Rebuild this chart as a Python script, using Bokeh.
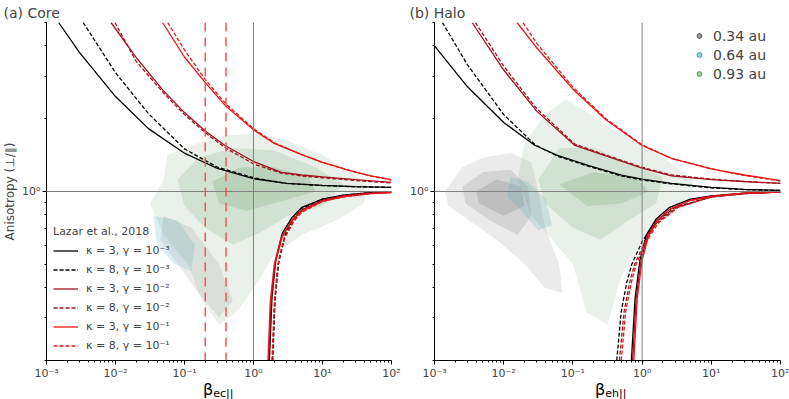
from bokeh.plotting import figure
from bokeh.layouts import row, column
from bokeh.models import (Range1d, FixedTicker, CustomJSTickFormatter, Span, Legend,
                          LegendItem, Div)
from bokeh.embed import file_html
from bokeh.resources import INLINE

FONT = "DejaVu Sans"

# ---------------- axes data ----------------
x_major = [1e-3, 1e-2, 1e-1, 1.0, 10.0, 100.0]
x_minor = [m * 10.0 ** e for e in range(-3, 2) for m in range(2, 10)]
y_major = [1.0]
y_minor = [0.2, 0.3, 0.4, 0.5, 0.6, 0.7, 0.8, 0.9, 2.0, 3.0, 4.0, 5.0]
beta_marks = [0.2, 0.4]

# ---------------- threshold curves (Lazar et al. 2018) ----------------
# Core, upper
core_up_k3_g3_b = [1.5e-3, 3e-3, 0.01, 0.03, 0.1, 0.3, 1, 3, 10, 30, 100]
core_up_k3_g3_a = [5.0, 3.76, 2.47, 1.82, 1.44, 1.245, 1.13, 1.08, 1.06, 1.048, 1.04]
core_up_k8_g3_b = [3.4e-3, 0.01, 0.03, 0.1, 0.3, 1, 3, 10, 30, 100]
core_up_k8_g3_a = [5.0, 3.1, 2.1, 1.5, 1.26, 1.14, 1.08, 1.058, 1.046, 1.04]
core_up_k3_g2_b = [0.0086, 0.02, 0.05, 0.1, 0.2, 0.385, 1, 2.54, 5, 10, 30, 100]
core_up_k3_g2_a = [5.0, 3.58, 2.6, 2.12, 1.78, 1.55, 1.33, 1.2, 1.17, 1.15, 1.12, 1.09]
core_up_k8_g2_b = [0.0098, 0.02, 0.05, 0.1, 0.2, 0.385, 1, 2.54, 5, 10, 30, 100]
core_up_k8_g2_a = [5.0, 3.45, 2.55, 2.08, 1.75, 1.52, 1.3, 1.19, 1.16, 1.14, 1.11, 1.085]
core_up_k3_g1_b = [0.048, 0.1, 0.2, 0.4, 1, 2, 5, 10, 25, 50, 100]
core_up_k3_g1_a = [5.0, 3.6, 2.82, 2.25, 1.8, 1.58, 1.42, 1.32, 1.22, 1.16, 1.12]
core_up_k8_g1_b = [0.057, 0.1, 0.2, 0.4, 1, 2, 5, 10, 25, 50, 100]
core_up_k8_g1_a = [5.0, 3.85, 2.9, 2.3, 1.82, 1.59, 1.42, 1.32, 1.22, 1.16, 1.115]
# Core, lower
core_lo_k3_g3_b = [1.7, 1.85, 2.1, 2.6, 3.6, 5, 10, 20, 50, 100]
core_lo_k3_g3_a = [0.2, 0.36, 0.52, 0.67, 0.78, 0.86, 0.93, 0.965, 0.99, 0.996]
core_lo_k8_g3_b = [1.9, 2.06, 2.32, 2.9, 3.9, 5, 10, 20, 50, 100]
core_lo_k8_g3_a = [0.2, 0.36, 0.52, 0.67, 0.78, 0.85, 0.93, 0.965, 0.99, 0.996]
core_lo_k3_g2_b = [1.66, 1.8, 2.05, 2.6, 3.6, 5, 10, 20, 50, 100]
core_lo_k3_g2_a = [0.2, 0.35, 0.5, 0.65, 0.76, 0.84, 0.92, 0.96, 0.985, 0.993]
core_lo_k8_g2_b = [1.88, 2.03, 2.3, 2.85, 3.9, 5, 10, 20, 50, 100]
core_lo_k8_g2_a = [0.2, 0.35, 0.5, 0.65, 0.76, 0.83, 0.92, 0.96, 0.985, 0.993]
core_lo_k3_g1_b = [1.62, 1.75, 2.0, 2.5, 3.5, 5, 10, 20, 50, 100]
core_lo_k3_g1_a = [0.2, 0.35, 0.5, 0.64, 0.75, 0.83, 0.91, 0.95, 0.98, 0.99]
core_lo_k8_g1_b = [1.85, 2.0, 2.25, 2.8, 3.8, 5, 10, 20, 50, 100]
core_lo_k8_g1_a = [0.2, 0.35, 0.5, 0.64, 0.75, 0.82, 0.91, 0.95, 0.98, 0.99]

# Halo, upper
halo_up_k3_g3_b = [1e-3, 3e-3, 0.01, 0.0284, 0.06, 0.17, 0.5, 1, 2.65, 10, 30, 100]
halo_up_k3_g3_a = [4.0, 2.71, 1.93, 1.55, 1.41, 1.28, 1.17, 1.125, 1.08, 1.04, 1.02, 1.01]
halo_up_k8_g3_b = [1.3e-3, 3e-3, 0.01, 0.0284, 0.06, 0.17, 0.5, 1, 2.65, 10, 30, 100]
halo_up_k8_g3_a = [5.0, 3.34, 2.08, 1.56, 1.4, 1.27, 1.16, 1.115, 1.075, 1.035, 1.018, 1.01]
halo_up_k3_g2_b = [3.5e-3, 0.01, 0.03, 0.107, 0.33, 1, 2.65, 10, 30, 100]
halo_up_k3_g2_a = [5.0, 3.18, 2.15, 1.55, 1.39, 1.25, 1.16, 1.12, 1.1, 1.08]
halo_up_k8_g2_b = [3.9e-3, 0.01, 0.03, 0.107, 0.33, 1, 2.65, 10, 30, 100]
halo_up_k8_g2_a = [5.0, 3.3, 2.2, 1.57, 1.4, 1.26, 1.17, 1.125, 1.1, 1.08]
halo_up_k3_g1_b = [0.0156, 0.03, 0.1, 0.3, 1, 2.65, 10, 30, 100]
halo_up_k3_g1_a = [5.0, 3.93, 2.65, 1.98, 1.55, 1.37, 1.24, 1.17, 1.11]
halo_up_k8_g1_b = [0.019, 0.03, 0.1, 0.3, 1, 2.65, 10, 30, 100]
halo_up_k8_g1_a = [5.0, 4.1, 2.7, 2.0, 1.56, 1.37, 1.24, 1.165, 1.105]
# Halo, lower
halo_lo_k3_g3_b = [0.7, 0.79, 0.93, 1.15, 1.6, 2.5, 5, 10, 30, 100]
halo_lo_k3_g3_a = [0.2, 0.36, 0.52, 0.66, 0.77, 0.86, 0.93, 0.96, 0.985, 0.995]
halo_lo_k8_g3_b = [0.43, 0.5, 0.6, 0.71, 1.0, 1.5, 3, 10, 30, 100]
halo_lo_k8_g3_a = [0.2, 0.32, 0.42, 0.5, 0.62, 0.74, 0.86, 0.95, 0.98, 0.995]
halo_lo_k3_g2_b = [0.73, 0.82, 0.97, 1.2, 1.65, 2.6, 5, 10, 30, 100]
halo_lo_k3_g2_a = [0.2, 0.36, 0.52, 0.66, 0.76, 0.85, 0.92, 0.955, 0.985, 0.995]
halo_lo_k8_g2_b = [0.47, 0.55, 0.66, 0.78, 1.1, 1.6, 3.2, 10, 30, 100]
halo_lo_k8_g2_a = [0.2, 0.32, 0.42, 0.5, 0.62, 0.74, 0.86, 0.95, 0.98, 0.995]
halo_lo_k3_g1_b = [0.76, 0.85, 1.0, 1.25, 1.7, 2.65, 5, 10, 30, 100]
halo_lo_k3_g1_a = [0.2, 0.36, 0.52, 0.66, 0.76, 0.85, 0.92, 0.955, 0.985, 0.995]
halo_lo_k8_g1_b = [0.5, 0.58, 0.7, 0.82, 1.15, 1.7, 3.3, 10, 30, 100]
halo_lo_k8_g1_a = [0.2, 0.32, 0.42, 0.5, 0.62, 0.74, 0.86, 0.95, 0.98, 0.995]

# ---------------- density clouds (log10 beta, log10 anisotropy) ----------------
core_green_outer_lx = [-1.5, -1.3, -1.25, -0.9, -0.5, 0.0, 0.5, 1.0, 1.35, 1.65, 1.6, 1.2, 0.7, 0.3, 0.05, -0.25, -0.5, -0.75, -0.95, -1.3]
core_green_outer_ly = [-0.05, 0.05, 0.15, 0.19, 0.23, 0.24, 0.21, 0.15, 0.09, 0.03, -0.05, -0.12, -0.18, -0.26, -0.38, -0.5, -0.55, -0.45, -0.3, -0.18]
core_green_mid_lx = [-1.1, -0.8, -0.3, 0.3, 0.9, 1.3, 1.0, 0.5, 0.1, -0.3, -0.7, -1.0]
core_green_mid_ly = [0.05, 0.14, 0.18, 0.17, 0.1, 0.03, -0.06, -0.1, -0.17, -0.22, -0.15, -0.06]
core_green_core_lx = [-0.6, -0.2, 0.3, 0.8, 0.9, 0.4, -0.1, -0.5]
core_green_core_ly = [0.04, 0.1, 0.1, 0.06, 0.0, -0.04, -0.08, -0.05]
core_gray_lx = [-1.3, -0.9, -0.5, -0.3, -0.5, -0.8, -1.1, -1.35]
core_gray_ly = [-0.1, -0.15, -0.3, -0.45, -0.52, -0.42, -0.3, -0.2]
core_blue_lx = [-1.45, -1.1, -0.85, -0.9, -1.15, -1.4]
core_blue_ly = [-0.1, -0.12, -0.22, -0.33, -0.3, -0.22]

halo_gray_outer_lx = [-2.85, -2.6, -2.3, -1.9, -1.6, -1.5, -1.4, -1.2, -1.15, -1.4, -1.7, -2.1, -2.5, -2.8]
halo_gray_outer_ly = [0.0, 0.1, 0.14, 0.16, 0.12, 0.0, -0.15, -0.3, -0.42, -0.4, -0.3, -0.2, -0.12, -0.06]
halo_gray_mid_lx = [-2.6, -2.3, -1.9, -1.65, -1.6, -1.8, -2.2, -2.55]
halo_gray_mid_ly = [0.02, 0.08, 0.09, 0.02, -0.1, -0.18, -0.12, -0.05]
halo_gray_core_lx = [-2.4, -2.1, -1.75, -1.7, -2.0, -2.35]
halo_gray_core_ly = [0.0, 0.05, 0.02, -0.06, -0.1, -0.05]
halo_blue_lx = [-1.9, -1.65, -1.4, -1.3, -1.5, -1.75, -1.95]
halo_blue_ly = [0.06, 0.04, -0.03, -0.14, -0.16, -0.08, -0.02]
halo_green_outer_lx = [-1.8, -1.7, -1.4, -1.1, -0.8, -0.4, 0.0, 0.4, 0.75, 0.7, 0.3, 0.0, -0.3, -0.5, -0.8, -1.0, -1.3, -1.6]
halo_green_outer_ly = [0.05, 0.2, 0.32, 0.38, 0.33, 0.25, 0.2, 0.12, 0.05, -0.05, -0.12, -0.2, -0.35, -0.55, -0.5, -0.3, -0.2, -0.1]
halo_green_mid_lx = [-1.5, -1.2, -0.7, -0.2, 0.3, 0.2, -0.2, -0.6, -1.0, -1.4]
halo_green_mid_ly = [0.05, 0.18, 0.18, 0.12, 0.06, -0.05, -0.12, -0.2, -0.15, -0.05]
halo_green_core_lx = [-1.2, -0.7, -0.1, 0.1, -0.3, -0.8]
halo_green_core_ly = [0.03, 0.08, 0.06, 0.0, -0.05, -0.06]

dist_labels = ["0.34 au", "0.64 au", "0.93 au"]
legend_labels = ["κ = 3, γ = 10⁻³", "κ = 8, γ = 10⁻³", "κ = 3, γ = 10⁻²",
                 "κ = 8, γ = 10⁻²", "κ = 3, γ = 10⁻¹", "κ = 8, γ = 10⁻¹"]

C_BLACK = "#000000"
C_DRED = "#a3101e"
C_RED = "#e8161a"
C_GRAY = "#7a7a7a"
C_BLUE = "#5aa8c0"
C_GREEN = "#5a965a"

fmt = CustomJSTickFormatter(code="""
const sup = {'-':'\u207b','0':'\u2070','1':'\u00b9','2':'\u00b2','3':'\u00b3','4':'\u2074','5':'\u2075','6':'\u2076','7':'\u2077','8':'\u2078','9':'\u2079'};
const e = Math.round(Math.log10(tick));
return '10' + String(e).split('').map(c => sup[c]).join('');
""")

FIG_H = 382


def tolin(vals):
    return [10.0 ** v for v in vals]


def make_fig(title, width, bl, br, toff, ylabel):
    p = figure(width=width, height=FIG_H, x_axis_type="log", y_axis_type="log",
               x_range=Range1d(1e-3, 1e2), y_range=Range1d(0.2, 5),
               output_backend="svg", toolbar_location=None,
               min_border_left=bl, min_border_right=br, min_border_top=22,
               min_border_bottom=19, title=title)
    p.outline_line_color = None
    p.grid.visible = False
    p.title.text_font = FONT
    p.title.text_font_size = "14px"
    p.title.text_font_style = "normal"
    p.title.align = "left"
    p.title.offset = toff
    p.title.standoff = 4
    for ax in (p.xaxis[0], p.yaxis[0]):
        ax.formatter = fmt
        ax.major_label_text_font = FONT
        ax.major_label_text_font_size = "11px"
        ax.major_tick_out = 4
        ax.major_tick_in = 0
        ax.minor_tick_out = 2
        ax.minor_tick_in = 0
        ax.axis_line_color = "black"
        ax.major_label_standoff = 2
    p.xaxis[0].ticker = FixedTicker(ticks=x_major, minor_ticks=x_minor)
    p.yaxis[0].ticker = FixedTicker(ticks=y_major, minor_ticks=y_minor)
    if ylabel:
        p.yaxis[0].axis_label = ylabel
        p.yaxis[0].axis_label_text_font = FONT
        p.yaxis[0].axis_label_text_font_size = "12px"
        p.yaxis[0].axis_label_text_font_style = "normal"
        p.yaxis[0].axis_label_standoff = 2
    return p


def clouds(p, polys):
    for lx, ly, col, a in polys:
        p.patch(tolin(lx), tolin(ly), fill_color=col, fill_alpha=a, line_color=None)


def curves(p, specs):
    rs = []
    for b, a, col, dash in specs:
        rs.append(p.line(b, a, line_color=col, line_width=1.3, line_dash=dash))
    return rs


def ref_lines(p):
    p.add_layout(Span(location=1.0, dimension="height", line_color="#808080", line_width=1))
    p.add_layout(Span(location=1.0, dimension="width", line_color="#808080", line_width=1))


def beta_div(sub, width, pad):
    html = ('<span style="font-family:\'DejaVu Sans\';font-size:16px;">β</span>'
            '<span style="font-family:\'DejaVu Sans\';font-size:11px;position:relative;top:2px;">'
            + sub + '</span>')
    return Div(text=html, width=width, height=17, margin=0,
               styles={"padding-left": f"{pad}px", "line-height": "15px",
                       "white-space": "nowrap"})


# ---------------- Core panel ----------------
p1 = make_fig("(a) Core", 407, 43, 16, -43, "Anisotropy (⊥/∥)")
clouds(p1, [
    (core_gray_lx, core_gray_ly, C_GRAY, 0.15),
    (core_blue_lx, core_blue_ly, C_BLUE, 0.2),
    (core_green_outer_lx, core_green_outer_ly, C_GREEN, 0.13),
    (core_green_mid_lx, core_green_mid_ly, C_GREEN, 0.16),
    (core_green_core_lx, core_green_core_ly, C_GREEN, 0.2),
])
ref_lines(p1)
up1 = curves(p1, [
    (core_up_k3_g3_b, core_up_k3_g3_a, C_BLACK, "solid"),
    (core_up_k8_g3_b, core_up_k8_g3_a, C_BLACK, "4 2"),
    (core_up_k3_g2_b, core_up_k3_g2_a, C_DRED, "solid"),
    (core_up_k8_g2_b, core_up_k8_g2_a, C_DRED, "4 2"),
    (core_up_k3_g1_b, core_up_k3_g1_a, C_RED, "solid"),
    (core_up_k8_g1_b, core_up_k8_g1_a, C_RED, "4 2"),
])
curves(p1, [
    (core_lo_k3_g3_b, core_lo_k3_g3_a, C_BLACK, "solid"),
    (core_lo_k8_g3_b, core_lo_k8_g3_a, C_BLACK, "4 2"),
    (core_lo_k3_g2_b, core_lo_k3_g2_a, C_DRED, "solid"),
    (core_lo_k8_g2_b, core_lo_k8_g2_a, C_DRED, "4 2"),
    (core_lo_k3_g1_b, core_lo_k3_g1_a, C_RED, "solid"),
    (core_lo_k8_g1_b, core_lo_k8_g1_a, C_RED, "4 2"),
])
for bm in beta_marks:
    p1.add_layout(Span(location=bm, dimension="height", line_color="#ff5050",
                       line_width=1.5, line_dash="9 6"))
leg1 = Legend(items=[LegendItem(label=lab, renderers=[r]) for lab, r in zip(legend_labels, up1)],
              location="bottom_left", title="Lazar et al., 2018")
leg1.title_text_font = FONT
leg1.title_text_font_size = "11px"
leg1.title_text_font_style = "normal"
leg1.title_standoff = 5
leg1.label_text_font = FONT
leg1.label_text_font_size = "11px"
leg1.glyph_width = 25
leg1.glyph_height = 15
leg1.label_height = 15
leg1.spacing = 4
leg1.padding = 3
leg1.margin = 4
leg1.label_standoff = 8
leg1.background_fill_alpha = 0
leg1.border_line_alpha = 0
p1.add_layout(leg1)

# ---------------- Halo panel ----------------
p2 = make_fig("(b) Halo", 382, 25, 9, -25, None)
clouds(p2, [
    (halo_gray_outer_lx, halo_gray_outer_ly, C_GRAY, 0.15),
    (halo_gray_mid_lx, halo_gray_mid_ly, C_GRAY, 0.2),
    (halo_gray_core_lx, halo_gray_core_ly, C_GRAY, 0.25),
    (halo_blue_lx, halo_blue_ly, C_BLUE, 0.22),
    (halo_green_outer_lx, halo_green_outer_ly, C_GREEN, 0.13),
    (halo_green_mid_lx, halo_green_mid_ly, C_GREEN, 0.16),
    (halo_green_core_lx, halo_green_core_ly, C_GREEN, 0.2),
])
ref_lines(p2)
curves(p2, [
    (halo_up_k3_g3_b, halo_up_k3_g3_a, C_BLACK, "solid"),
    (halo_up_k8_g3_b, halo_up_k8_g3_a, C_BLACK, "4 2"),
    (halo_up_k3_g2_b, halo_up_k3_g2_a, C_DRED, "solid"),
    (halo_up_k8_g2_b, halo_up_k8_g2_a, C_DRED, "4 2"),
    (halo_up_k3_g1_b, halo_up_k3_g1_a, C_RED, "solid"),
    (halo_up_k8_g1_b, halo_up_k8_g1_a, C_RED, "4 2"),
    (halo_lo_k3_g3_b, halo_lo_k3_g3_a, C_BLACK, "solid"),
    (halo_lo_k8_g3_b, halo_lo_k8_g3_a, C_BLACK, "4 2"),
    (halo_lo_k3_g2_b, halo_lo_k3_g2_a, C_DRED, "solid"),
    (halo_lo_k8_g2_b, halo_lo_k8_g2_a, C_DRED, "4 2"),
    (halo_lo_k3_g1_b, halo_lo_k3_g1_a, C_RED, "solid"),
    (halo_lo_k8_g1_b, halo_lo_k8_g1_a, C_RED, "4 2"),
])
marker_cols = ["#8c8c8c", "#7fd0d4", "#8cc88c"]
marker_edges = ["#5a5a5a", "#4a9aa0", "#5a9a5a"]
nan = float("nan")
dist_rs = [p2.scatter(x=[nan], y=[nan], marker="circle", size=9, fill_color=c, line_color=e,
                      fill_alpha=0.9) for c, e in zip(marker_cols, marker_edges)]
leg2 = Legend(items=[LegendItem(label=lab, renderers=[r]) for lab, r in zip(dist_labels, dist_rs)],
              location="top_right")
leg2.label_text_font = FONT
leg2.label_text_font_size = "14px"
leg2.glyph_width = 12
leg2.glyph_height = 19
leg2.label_height = 19
leg2.label_width = 63
leg2.spacing = 0
leg2.padding = 4
leg2.margin = 0
leg2.label_standoff = 8
leg2.background_fill_alpha = 0
leg2.border_line_alpha = 0
p2.add_layout(leg2)

d1 = beta_div("ec||", 407, 203)
d2 = beta_div("eh||", 382, 188)

layout = column(row(p1, p2), row(d1, d2))
open("out.html", "w").write(file_html(layout, INLINE))
